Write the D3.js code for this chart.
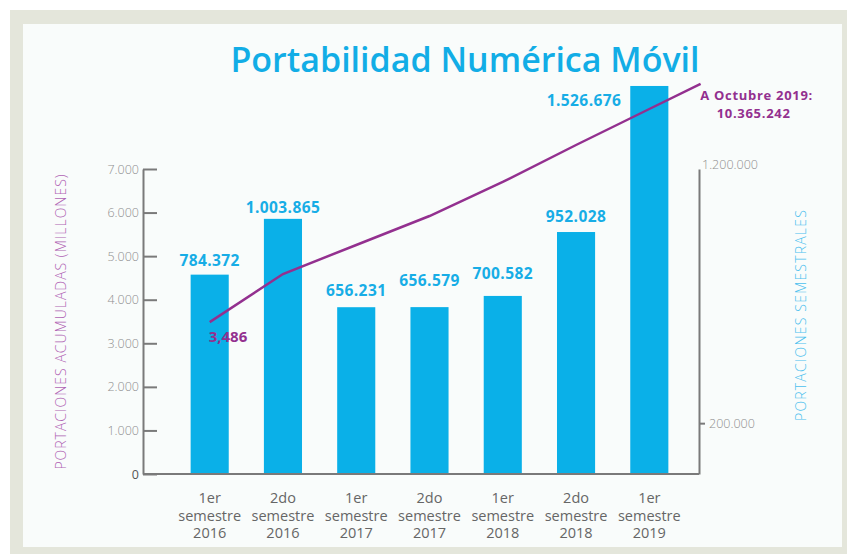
<!DOCTYPE html>
<html>
<head>
<meta charset="utf-8">
<script src="https://cdn.jsdelivr.net/npm/d3@7"></script>
<style>
  body { margin: 0; background: #fff; }
  text { font-family: "Open Sans", "DejaVu Sans", sans-serif; }
</style>
</head>
<body>
<div id="chart"></div>
<script>
// ---------- data ----------
var categories = ["1er semestre 2016", "2do semestre 2016", "1er semestre 2017", "2do semestre 2017",
                  "1er semestre 2018", "2do semestre 2018", "1er semestre 2019"];
var semestrales = [784372, 1003865, 656231, 656579, 700582, 952028, 1526676];
// accumulated line
var acumuladas = [3486, 4590, 5256, 5921, 6702, 7551, 8377];
var octubrePos = 8951;          // where the line ends (left axis units)
var octubreTotal = 10365242;
var leftTicks = [0, 1000, 2000, 3000, 4000, 5000, 6000, 7000];
var rightTicks = [200000, 1200000];

var title = "Portabilidad Numérica Móvil";

// ---------- setup ----------
var W = 847, H = 554;
var plot = { left: 143, right: 699, top: 169, bottom: 474 };

var cyan = "#0ab0e8", purple = "#93308f", axisGrey = "#7a7a7a";

var es = d3.formatLocale({ decimal: ",", thousands: ".", grouping: [3], currency: ["$", ""] });
var fmt = es.format(",");

var svg = d3.select("#chart").append("svg")
  .attr("width", W)
  .attr("height", H);

// frame
svg.append("rect").attr("x", 10).attr("y", 10).attr("width", W - 10).attr("height", H - 10).attr("fill", "#e4e6db");
svg.append("rect").attr("x", 23).attr("y", 24).attr("width", 819).attr("height", 523).attr("fill", "#f9fcfb");

var x = d3.scaleBand()
  .domain(d3.range(categories.length))
  .range([154, 705])
  .paddingInner(0.48)
  .paddingOuter(0.5);

var yL = d3.scaleLinear().domain([0, 7000]).range([plot.bottom, plot.top]);
var yR = d3.scaleLinear().domain([0, 1200000]).range([plot.bottom, plot.top]);

// title
svg.append("text")
  .attr("x", 465)
  .attr("y", 72)
  .attr("text-anchor", "middle")
  .attr("font-size", 34)
  .attr("font-weight", 600)
  .attr("fill", "#12ade6")
  .text(title);

// bars
svg.selectAll(".bar")
  .data(semestrales)
  .enter().append("rect")
  .attr("class", "bar")
  .attr("x", function(d, i) { return x(i); })
  .attr("width", x.bandwidth())
  .attr("y", function(d) { return yR(d); })
  .attr("height", function(d) { return plot.bottom - yR(d); })
  .attr("fill", cyan);

// bar labels (small nudges so they sit like the original)
var labelLift = [9, 6, 11, 21, 17, 10];
var last = semestrales.length - 1;
svg.selectAll(".barlabel")
  .data(semestrales)
  .enter().append("text")
  .attr("class", "barlabel")
  .attr("x", function(d, i) { return i == last ? x(i) - 9 : x(i) + x.bandwidth() / 2; })
  .attr("y", function(d, i) { return i == last ? yR(d) + 20 : yR(d) - labelLift[i]; })
  .attr("text-anchor", function(d, i) { return i == last ? "end" : "middle"; })
  .attr("font-size", 15.5)
  .attr("font-weight", 700)
  .attr("letter-spacing", 0.4)
  .attr("fill", "#17ade6")
  .text(function(d) { return fmt(d); });

// axes
var leftAxis = d3.axisLeft(yL)
  .tickValues(leftTicks)
  .tickSize(-14)
  .tickPadding(4)
  .tickSizeOuter(0)
  .tickFormat(fmt);

var gL = svg.append("g")
  .attr("transform", "translate(" + plot.left + ",0)")
  .call(leftAxis);

var rightAxis = d3.axisRight(yR)
  .tickValues(rightTicks)
  .tickSize(6)
  .tickPadding(4)
  .tickSizeOuter(0)
  .tickFormat(fmt);

var gR = svg.append("g")
  .attr("transform", "translate(" + plot.right + ",0)")
  .call(rightAxis);

[gL, gR].forEach(function(g) {
  g.select(".domain").attr("stroke", axisGrey).attr("stroke-width", 2);
  g.selectAll(".tick line").attr("stroke", axisGrey).attr("stroke-width", 2);
  g.selectAll(".tick text")
    .attr("font-size", 12.5)
    .attr("font-weight", 300)
    .attr("fill", "#8f8f8f")
    .style("font-family", "'Open Sans', sans-serif");
});
gR.selectAll(".tick").filter(function(d) { return d == 1200000; })
  .select("line").remove();
gR.selectAll(".tick").filter(function(d) { return d == 1200000; })
  .select("text").attr("x", 3).attr("dy", "-0.05em");
gL.selectAll(".tick").filter(function(d) { return d == 0; })
  .select("text").attr("fill", "#555").attr("font-weight", 400);

// baseline
svg.append("line")
  .attr("x1", plot.left).attr("x2", plot.right)
  .attr("y1", plot.bottom).attr("y2", plot.bottom)
  .attr("stroke", axisGrey).attr("stroke-width", 2);

// category labels
var cat = svg.selectAll(".cat")
  .data(categories)
  .enter().append("text")
  .attr("class", "cat")
  .attr("text-anchor", "middle")
  .attr("font-size", 14.5)
  .attr("font-weight", 500)
  .attr("fill", "#666");

cat.selectAll("tspan")
  .data(function(d, i) {
    return d.split(" ").map(function(w) { return { w: w, i: i }; });
  })
  .enter().append("tspan")
  .attr("x", function(d) { return x(d.i) + x.bandwidth() / 2; })
  .attr("y", function(d, j) { return plot.bottom + 29 + j * 17.5; })
  .text(function(d) { return d.w; });

// axis titles
svg.append("text")
  .attr("transform", "translate(66," + (plot.top + plot.bottom) / 2 + ") rotate(-90)")
  .attr("text-anchor", "middle")
  .attr("font-size", 14)
  .attr("font-weight", 300)
  .attr("letter-spacing", 1)
  .attr("fill", "#b064b4")
  .text("PORTACIONES ACUMULADAS (MILLONES)");

svg.append("text")
  .attr("transform", "translate(806,315) rotate(-90)")
  .attr("text-anchor", "middle")
  .attr("font-size", 14)
  .attr("font-weight", 300)
  .attr("letter-spacing", 1.2)
  .attr("fill", "#4cc0ee")
  .text("PORTACIONES SEMESTRALES");

// accumulated line
var pts = acumuladas.map(function(v, i) {
  return [x(i) + x.bandwidth() / 2, yL(v)];
});
var endPt = [x(last) + x.bandwidth() / 2 + x.step() * 0.7, yL(octubrePos)];
pts.push(endPt);

svg.append("path")
  .datum(pts)
  .attr("fill", "none")
  .attr("stroke", purple)
  .attr("stroke-width", 2.5)
  .attr("d", d3.line());

svg.append("text")
  .attr("x", pts[0][0] - 1)
  .attr("y", pts[0][1] + 20)
  .attr("font-size", 15)
  .attr("font-weight", 700)
  .attr("fill", purple)
  .text(d3.format(",")(acumuladas[0]));

svg.append("text")
  .attr("x", endPt[0] + 56)
  .attr("y", endPt[1] + 16)
  .attr("text-anchor", "middle")
  .attr("font-size", 13)
  .attr("font-weight", 700)
  .attr("letter-spacing", 0.7)
  .attr("fill", purple)
  .text("A Octubre 2019:");

svg.append("text")
  .attr("x", endPt[0] + 53)
  .attr("y", endPt[1] + 34)
  .attr("text-anchor", "middle")
  .attr("font-size", 13)
  .attr("font-weight", 700)
  .attr("letter-spacing", 0.7)
  .attr("fill", purple)
  .text(fmt(octubreTotal));
</script>
</body>
</html>
